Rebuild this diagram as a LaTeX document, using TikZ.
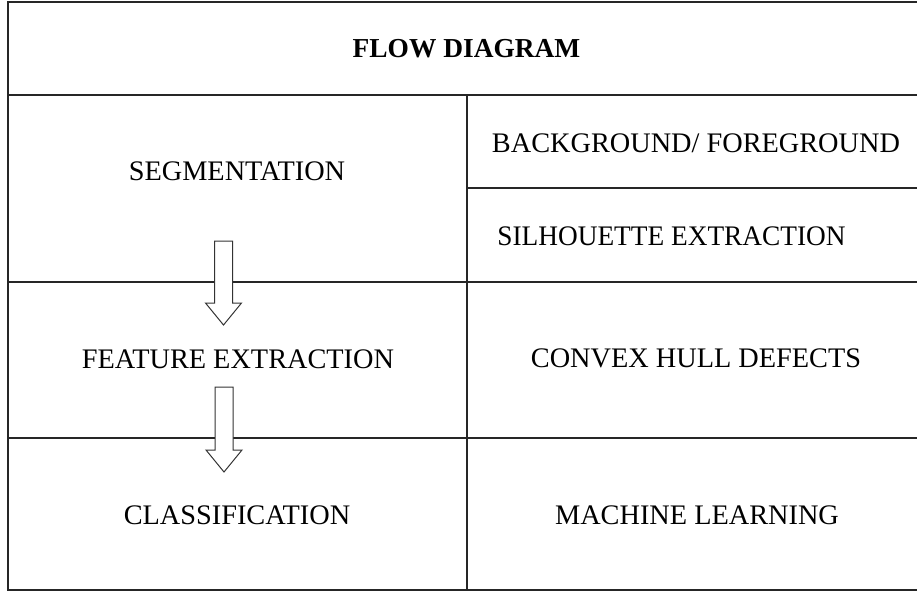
\documentclass[tikz,border=0pt]{standalone}
\usepackage{fontspec}
\setmainfont{Liberation Serif}
\begin{document}
\begin{tikzpicture}[x=1pt,y=-1pt,
  rule/.style={draw=black!85,line width=1.4pt},
  lbl/.style={anchor=base,inner sep=0pt,font=\fontsize{28.3}{32}\selectfont},
  ttl/.style={anchor=base,inner sep=0pt,font=\fontsize{27.4}{32}\selectfont\bfseries},
  blockarrow/.style={draw=black!80,line width=1pt,fill=white,line join=miter}]
\useasboundingbox (0,0) rectangle (917,592);
% table rules
\coordinate (tl) at (8,2);
\coordinate (tr) at (917,2);
\coordinate (bl) at (8,590);
\coordinate (br) at (917,590);
\draw[rule] (tr) -- (tl) -- (bl) -- (br);
\draw[rule] (8,95) -- (917,95);
\draw[rule] (8,282) -- (917,282);
\draw[rule] (8,438) -- (917,438);
\draw[rule] (467,95) -- (467,590);
\draw[rule] (467,188) -- (917,188);
% texts
\node[ttl] (title) at (466.5,57) {FLOW DIAGRAM};
\node[lbl] (seg) at (237,180) {SEGMENTATION};
\node[lbl] (bg) at (696,152) {BACKGROUND/ FOREGROUND};
\node[lbl,xscale=0.965] (sil) at (671.5,245) {SILHOUETTE EXTRACTION};
\node[lbl] (feat) at (238,368) {FEATURE EXTRACTION};
\node[lbl] (cvx) at (696,367) {CONVEX HULL DEFECTS};
\node[lbl] (cls) at (237,524) {CLASSIFICATION};
\node[lbl] (ml) at (697,524) {MACHINE LEARNING};
% block arrows
\coordinate (a1) at (223.5,241);
\coordinate (a2) at (224,387);
\draw[blockarrow] (a1) ++(-9,0) -- ++(18,0) -- ++(0,62) -- ++(9,0) -- ++(-18,22) -- ++(-18,-22) -- ++(9,0) -- cycle;
\draw[blockarrow] (a2) ++(-9,0) -- ++(18,0) -- ++(0,63) -- ++(9,0) -- ++(-18,22) -- ++(-18,-22) -- ++(9,0) -- cycle;
\end{tikzpicture}
\end{document}
